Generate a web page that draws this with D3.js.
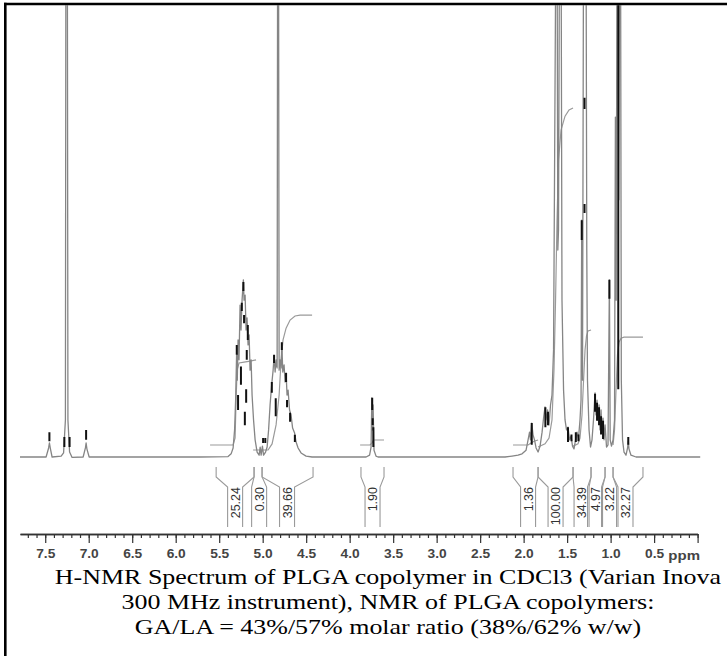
<!DOCTYPE html>
<html>
<head>
<meta charset="utf-8">
<script src="https://cdn.jsdelivr.net/npm/d3@7"></script>
<style>
  body { margin: 0; background: #fff; }
  svg { display: block; }
</style>
</head>
<body>
<script>
'use strict';

// spectrum trace: [ppm, relative intensity] (100 = top of the frame)
const spectrum = [
  [7.79, 0], [7.490, 0], [7.461, 2.0], [7.452, 3.1], [7.440, 1.8], [7.421, 0],
  [7.317, 0.2], [7.289, 0.9], [7.268, 8.2], [7.262, 120], [7.246, 120], [7.239, 8.2],
  [7.220, 1.1], [7.191, -0.1], [7.064, 0], [7.038, 2.0], [7.030, 3.1], [7.021, 1.8],
  [6.995, 0], [5.72, 0], [5.398, 0.1], [5.363, 0.7], [5.340, 2.0], [5.323, 6.0],
  [5.311, 12.6], [5.300, 22.6], [5.292, 17.0], [5.283, 25.9], [5.272, 21.5],
  [5.260, 33.6], [5.249, 28.1], [5.237, 34.7], [5.222, 39.2], [5.214, 34.7],
  [5.202, 35.8], [5.191, 28.1], [5.180, 30.8], [5.168, 24.8], [5.156, 27.0],
  [5.145, 19.2], [5.133, 21.5], [5.122, 13.7], [5.105, 8.2], [5.087, 3.8],
  [5.064, 1.1], [5.041, 0.4], [5.029, 2.2], [5.018, 0.4], [5.003, 2.4], [4.990, 0.4],
  [4.967, 1.1], [4.949, 2.2], [4.932, 6.0], [4.915, 11.5], [4.897, 15.9], [4.880, 19.2],
  [4.869, 22.3], [4.857, 18.8], [4.846, 21.5], [4.834, 19.7], [4.828, 120], [4.818, 120],
  [4.811, 19.2], [4.800, 21.5], [4.788, 19.7], [4.780, 25.2], [4.769, 18.8],
  [4.754, 20.4], [4.743, 16.6], [4.731, 18.6], [4.720, 13.7], [4.708, 14.8],
  [4.691, 10.4], [4.674, 9.3], [4.656, 6.4], [4.633, 5.3], [4.616, 3.3], [4.593, 2.0],
  [4.559, 0.9], [4.501, 0.2], [4.432, 0], [3.811, 0], [3.771, 0.4], [3.754, 2.2],
  [3.745, 13.1], [3.738, 6.0], [3.731, 11.5], [3.720, 1.5], [3.697, 0.2], [3.674, 0],
  [2.214, 0], [2.133, 0.2], [2.064, 0.4], [2.018, 0.7], [1.972, 1.5], [1.949, 3.8],
  [1.932, 5.5], [1.921, 3.8], [1.907, 7.5], [1.892, 4.9], [1.875, 3.8], [1.857, 2.0],
  [1.834, 1.1], [1.811, 2.4], [1.788, 5.5], [1.771, 8.6], [1.754, 11.1], [1.743, 8.2],
  [1.725, 10.4], [1.708, 7.1], [1.691, 11.5], [1.674, 13.7], [1.656, 23.7],
  [1.628, 120], [1.616, 120], [1.607, 45.8], [1.599, 50.2], [1.587, 120], [1.570, 120],
  [1.559, 34.7], [1.541, 14.8], [1.524, 8.2], [1.507, 6.0], [1.490, 6.6], [1.472, 3.8],
  [1.455, 4.6], [1.438, 2.4], [1.421, 1.8], [1.403, 3.8], [1.386, 5.5], [1.369, 4.2],
  [1.352, 8.2], [1.340, 12.6], [1.332, 52.4], [1.323, 17.0], [1.311, 120], [1.294, 120],
  [1.283, 120], [1.274, 45.8], [1.266, 17.0], [1.248, 6.0], [1.231, 2.2], [1.214, 3.8],
  [1.197, 8.2], [1.179, 14.2], [1.168, 9.3], [1.156, 12.6], [1.145, 8.2], [1.133, 11.5],
  [1.122, 6.0], [1.110, 10.4], [1.099, 5.5], [1.087, 8.6], [1.076, 3.8], [1.064, 7.1],
  [1.047, 2.2], [1.030, 2.7], [1.014, 39.2], [1.005, 3.8], [0.990, 2.4], [0.972, 3.8],
  [0.955, 8.2], [0.945, 75.2], [0.936, 34.7], [0.926, 120], [0.915, 120], [0.906, 56.9],
  [0.897, 120], [0.886, 120], [0.877, 17.0], [0.863, 3.8], [0.846, 1.1], [0.823, 0.4],
  [0.805, 2.0], [0.797, 3.5], [0.789, 1.8], [0.766, 0.4], [0.708, 0], [-0.03, 0]
];

// dark plotter strokes on the trace: [ppm, from, to]
const darkMarks = [
  [7.452, 3.5, 5.5], [7.28, 2.2, 4.4], [7.22, 2.2, 4.4], [7.030, 3.8, 6.0],
  [5.222, 36.7, 38.7], [5.240, 32.3, 34.1], [5.214, 29.6, 31.4], [5.171, 25.9, 29.2],
  [5.298, 22.6, 24.8], [5.183, 21.5, 23.7], [5.283, 10.4, 13.7], [5.205, 7, 10],
  [5.25, 16, 20], [5.19, 12, 15],
  [4.995, 3.1, 4.2], [4.970, 3.1, 4.2],
  [4.869, 20.8, 22.6], [4.895, 14.2, 16.6], [4.780, 23.7, 25.4], [4.731, 16.6, 18.6],
  [4.720, 11, 12.6], [4.685, 7.8, 9.8], [4.630, 3.3, 4.9], [4.85, 9, 13],
  [3.741, 10.4, 13.1], [3.735, 7.1, 8.6], [3.728, 2.2, 6.6],
  [1.907, 2.7, 7.5], [1.75, 6.6, 11], [1.72, 7, 10],
  [1.49, 3.3, 6.6], [1.45, 3.5, 5], [1.40, 3.3, 5.5], [1.37, 3.5, 5],
  [1.179, 10, 14], [1.156, 8, 12], [1.133, 7, 11], [1.110, 5, 9], [1.087, 4, 8],
  [1.014, 35, 39.2], [1.300, 77, 79.5], [1.332, 48, 52.4], [1.30, 54, 56],
  [0.912, 15, 120], [0.797, 2.7, 4.4]
];

// integral traces: [ppm, level]
const integralCurves = [
  [[5.605, 2.65], [5.340, 2.65], [5.317, 4.2], [5.306, 12.6], [5.294, 19.2], [5.272, 20.8],
   [5.214, 21.0], [5.145, 21.2], [5.076, 21.5]],
  [[5.110, 1.55], [4.938, 1.55], [4.892, 2.9], [4.846, 7.1], [4.811, 13.7], [4.788, 21.5],
   [4.766, 25.9], [4.731, 28.5], [4.685, 30.3], [4.628, 31.2], [4.570, 31.4], [4.432, 31.4]],
  [[3.880, 2.65], [3.766, 2.65], [3.743, 3.1], [3.725, 3.76], [3.697, 3.76], [3.605, 3.76]],
  [[2.122, 2.65], [1.949, 2.65], [1.915, 3.1], [1.880, 3.5], [1.834, 3.76]],
  [[1.834, 2.2], [1.754, 2.9], [1.708, 4.2], [1.674, 8.2], [1.651, 19.2], [1.633, 34.7],
   [1.616, 52.4], [1.599, 65.7], [1.570, 72.3], [1.524, 75.4], [1.478, 76.8], [1.432, 77.2]],
  [[1.432, 2.4], [1.375, 2.9], [1.352, 4.2], [1.329, 9.3], [1.311, 17.0], [1.294, 23.7],
   [1.277, 26.8], [1.260, 27.9], [1.225, 28.1]],
  [[0.972, 2.65], [0.955, 6.0], [0.938, 14.8], [0.921, 22.6], [0.903, 25.4], [0.880, 26.3],
   [0.846, 26.5], [0.628, 26.5]]
];

// integral regions under the baseline
const integralFrom   = [5.535, 5.099, 5.007, 3.870, 2.122, 1.834, 1.432, 1.225, 1.064, 0.972];
const integralTo     = [5.099, 5.007, 4.421, 3.605, 1.834, 1.432, 1.225, 1.064, 0.972, 0.628];
const integralAt     = [5.317, 5.041, 4.720, 3.737, 1.949, 1.633, 1.334, 1.179, 1.018, 0.829];
const integralLabels = ['25.24', '0.30', '39.66', '1.90', '1.36', '100.00', '34.39', '4.97', '3.22', '32.27'];

const tickLabels = [7.5, 7.0, 6.5, 6.0, 5.5, 5.0, 4.5, 4.0, 3.5, 3.0, 2.5, 2.0, 1.5, 1.0, 0.5];
const captionLines = [
  'H-NMR Spectrum of PLGA copolymer in CDCl3 (Varian Inova',
  '300 MHz instrument), NMR of PLGA copolymers:',
  'GA/LA = 43%/57% molar ratio (38%/62% w/w)'
];

const W = 727, H = 656;
const baseY = 457, axisY = 534;
const stretch = 1.18;   // the scan is wider than it is tall

const svg = d3.select('body').append('svg')
  .attr('width', W)
  .attr('height', H);

const x = d3.scaleLinear().domain([7.79, 0]).range([20, 697.6]);
const y = d3.scaleLinear().domain([0, 100]).range([baseY, 5]);

svg.append('clipPath').attr('id', 'plot')
  .append('rect')
  .attr('x', 7).attr('y', 5.3)
  .attr('width', W - 7).attr('height', baseY + 8);

const plot = svg.append('g').attr('clip-path', 'url(#plot)');

const line = d3.line().x(d => x(d[0])).y(d => y(d[1]));

// integral curves sit behind the trace
plot.append('g')
  .selectAll('path')
  .data(integralCurves)
  .join('path')
  .attr('d', line)
  .attr('fill', 'none')
  .attr('stroke', '#9a9a9a')
  .attr('stroke-width', 1.2);

plot.append('path')
  .datum(spectrum)
  .attr('d', line)
  .attr('fill', 'none')
  .attr('stroke', '#858585')
  .attr('stroke-width', 1.3)
  .attr('stroke-linejoin', 'round');

plot.append('g')
  .selectAll('line')
  .data(darkMarks)
  .join('line')
  .attr('x1', d => x(d[0])).attr('x2', d => x(d[0]))
  .attr('y1', d => y(d[1])).attr('y2', d => y(d[2]))
  .attr('stroke', '#111')
  .attr('stroke-width', 2);

// integral brackets and values
const brackets = svg.append('g')
  .attr('fill', 'none')
  .attr('stroke', '#9a9a9a')
  .attr('stroke-width', 1.1);

integralLabels.forEach((lab, i) => {
  const c = x(integralAt[i]);
  [[x(integralFrom[i]), c - 7.5], [x(integralTo[i]), c + 7.5]].forEach(([o, inner]) => {
    brackets.append('path')
      .attr('d', `M${o},467 L${o},477 L${inner},487 L${inner},527`);
  });
  svg.append('text')
    .attr('transform', `translate(${c},487) rotate(-90)`)
    .attr('text-anchor', 'end')
    .attr('dy', '0.36em')
    .attr('font-family', 'Liberation Sans, Arial, sans-serif')
    .attr('font-size', 12.5)
    .attr('fill', '#333')
    .text(lab);
});

// ppm axis: minor ticks every 0.1, major every 0.5
const minorTicks = d3.range(77, -1, -1).map(v => v / 10);
const axisG = svg.append('g').attr('transform', `translate(0,${axisY})`);

axisG.call(d3.axisBottom(x).tickValues(minorTicks).tickSize(4).tickSizeOuter(0).tickFormat(''));
axisG.append('g').call(d3.axisBottom(x).tickValues(tickLabels.concat([0])).tickSize(9).tickSizeOuter(0)
  .tickFormat(d => d === 0 ? '' : d.toFixed(1)));

axisG.selectAll('path.domain').attr('stroke', '#333').attr('stroke-width', 1.6);
axisG.selectAll('.tick line').attr('stroke', '#333').attr('stroke-width', 1.2);
axisG.selectAll('text')
  .attr('font-family', 'Liberation Sans, Arial, sans-serif')
  .attr('font-size', 12.5)
  .attr('font-weight', 'bold')
  .attr('fill', '#444')
  .attr('y', 15)
  .each(function () {
    const t = d3.select(this);
    if (t.text()) t.attr('textLength', this.getComputedTextLength() * 1.1).attr('lengthAdjust', 'spacingAndGlyphs');
  });

const ppm = svg.append('text')
  .attr('x', 700).attr('y', 560)
  .attr('text-anchor', 'end')
  .attr('font-family', 'Liberation Sans, Arial, sans-serif')
  .attr('font-size', 12.5)
  .attr('font-weight', 'bold')
  .attr('fill', '#444')
  .text('ppm');
ppm.attr('textLength', ppm.node().getComputedTextLength() * 1.2).attr('lengthAdjust', 'spacingAndGlyphs');

// caption, same horizontal stretch as the scan
svg.append('g')
  .selectAll('text')
  .data(captionLines)
  .join('text')
  .attr('x', 388)
  .attr('y', (d, i) => 584 + i * 25)
  .attr('text-anchor', 'middle')
  .attr('font-family', 'Liberation Serif, Times New Roman, serif')
  .attr('font-size', 22)
  .attr('fill', '#000')
  .text(d => d)
  .each(function () {
    d3.select(this)
      .attr('textLength', this.getComputedTextLength() * stretch)
      .attr('lengthAdjust', 'spacingAndGlyphs');
  });

// frame
svg.append('line').attr('x1', 5.3).attr('x2', 5.3).attr('y1', 2.7).attr('y2', H)
  .attr('stroke', '#000').attr('stroke-width', 2.6);
svg.append('line').attr('x1', 4).attr('x2', W).attr('y1', 4).attr('y2', 4)
  .attr('stroke', '#000').attr('stroke-width', 2.6);
</script>
</body>
</html>
